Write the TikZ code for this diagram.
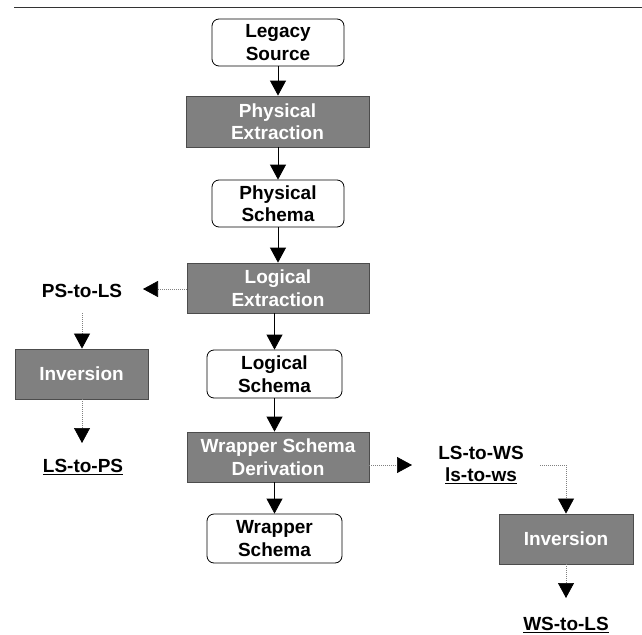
\documentclass[tikz,border=0pt]{standalone}
\usepackage{fontspec}
\setmainfont{Liberation Sans}
\usetikzlibrary{arrows.meta}
\definecolor{procgray}{RGB}{128,128,128}
\begin{document}
\begin{tikzpicture}[x=1pt,y=-1pt,
  every node/.style={font=\fontsize{19}{22.5}\selectfont\bfseries, align=center, inner sep=0pt},
  data/.style={draw=black, line width=0.8pt, rounded corners=7pt, fill=white, minimum width=132pt, minimum height=47pt},
  proc/.style={draw=black!70, line width=0.8pt, fill=procgray, text=white, minimum width=182pt, minimum height=50pt},
  flow/.style={draw=black, line width=0.8pt, -{Triangle[width=16pt,length=15pt]}},
  dflow/.style={draw=black!50, line width=0.7pt, dash pattern=on 1pt off 1pt, -{Triangle[width=16pt,length=15pt,color=black]}}
]
\useasboundingbox (0,0) rectangle (642,634);
\coordinate (tl) at (14,7.5);
\coordinate (tr) at (642,7.5);
\draw[black!80, line width=1.5pt] (tl) -- (tr);

\node[data] (legacy) at (278,42.5) {Legacy\\Source};
\node[proc, minimum width=183pt, minimum height=51pt] (pe) at (277.5,121.5) {Physical\\Extraction};
\node[data] (ps) at (278,203.5) {Physical\\Schema};
\node[proc] (le) at (278,288) {Logical\\Extraction};
\node[data, minimum width=135pt, minimum height=48pt] (ls) at (274.5,374) {Logical\\Schema};
\node[proc] (wsd) at (278,457) {Wrapper Schema\\Derivation};
\node[data, minimum width=135pt, minimum height=49pt] (ws) at (274.5,538.5) {Wrapper\\Schema};

\node (ps2ls) at (82,291) {PS-to-LS};
\node[proc, minimum width=133pt] (inv1) at (81.5,374) {Inversion};
\node (ls2ps) at (83,467) {\underline{LS-to-PS}};

\node (ls2ws) at (481,465) {LS-to-WS\\\underline{ls-to-ws}};
\node[proc, minimum width=134pt] (inv2) at (566,539) {Inversion};
\node (ws2ls) at (566,625) {\underline{WS-to-LS}};

\draw[flow] (legacy.south) -- (legacy.south |- pe.north);
\draw[flow] (legacy.south |- pe.south) -- (legacy.south |- ps.north);
\draw[flow] (ps.south) -- (ps.south |- le.north);
\draw[flow] (ls.north |- le.south) -- (ls.north);
\draw[flow] (ls.south) -- (ls.south |- wsd.north);
\draw[flow] (ws.north |- wsd.south) -- (ws.north);

\coordinate (a0) at (143,289);
\draw[dflow] (a0 -| le.west) -- (a0);
\coordinate (a1) at (82,313);
\draw[dflow] (a1) -- (a1 |- inv1.north);
\coordinate (a2) at (82,443);
\draw[dflow] (a2 |- inv1.south) -- (a2);

\coordinate (b1) at (412,465);
\draw[dflow] (b1 -| wsd.east) -- (b1);
\coordinate (b2) at (540,465);
\draw[dflow] (b2) -| (inv2.north);
\coordinate (b3) at (566,598);
\draw[dflow] (inv2.south) -- (b3);
\end{tikzpicture}
\end{document}
